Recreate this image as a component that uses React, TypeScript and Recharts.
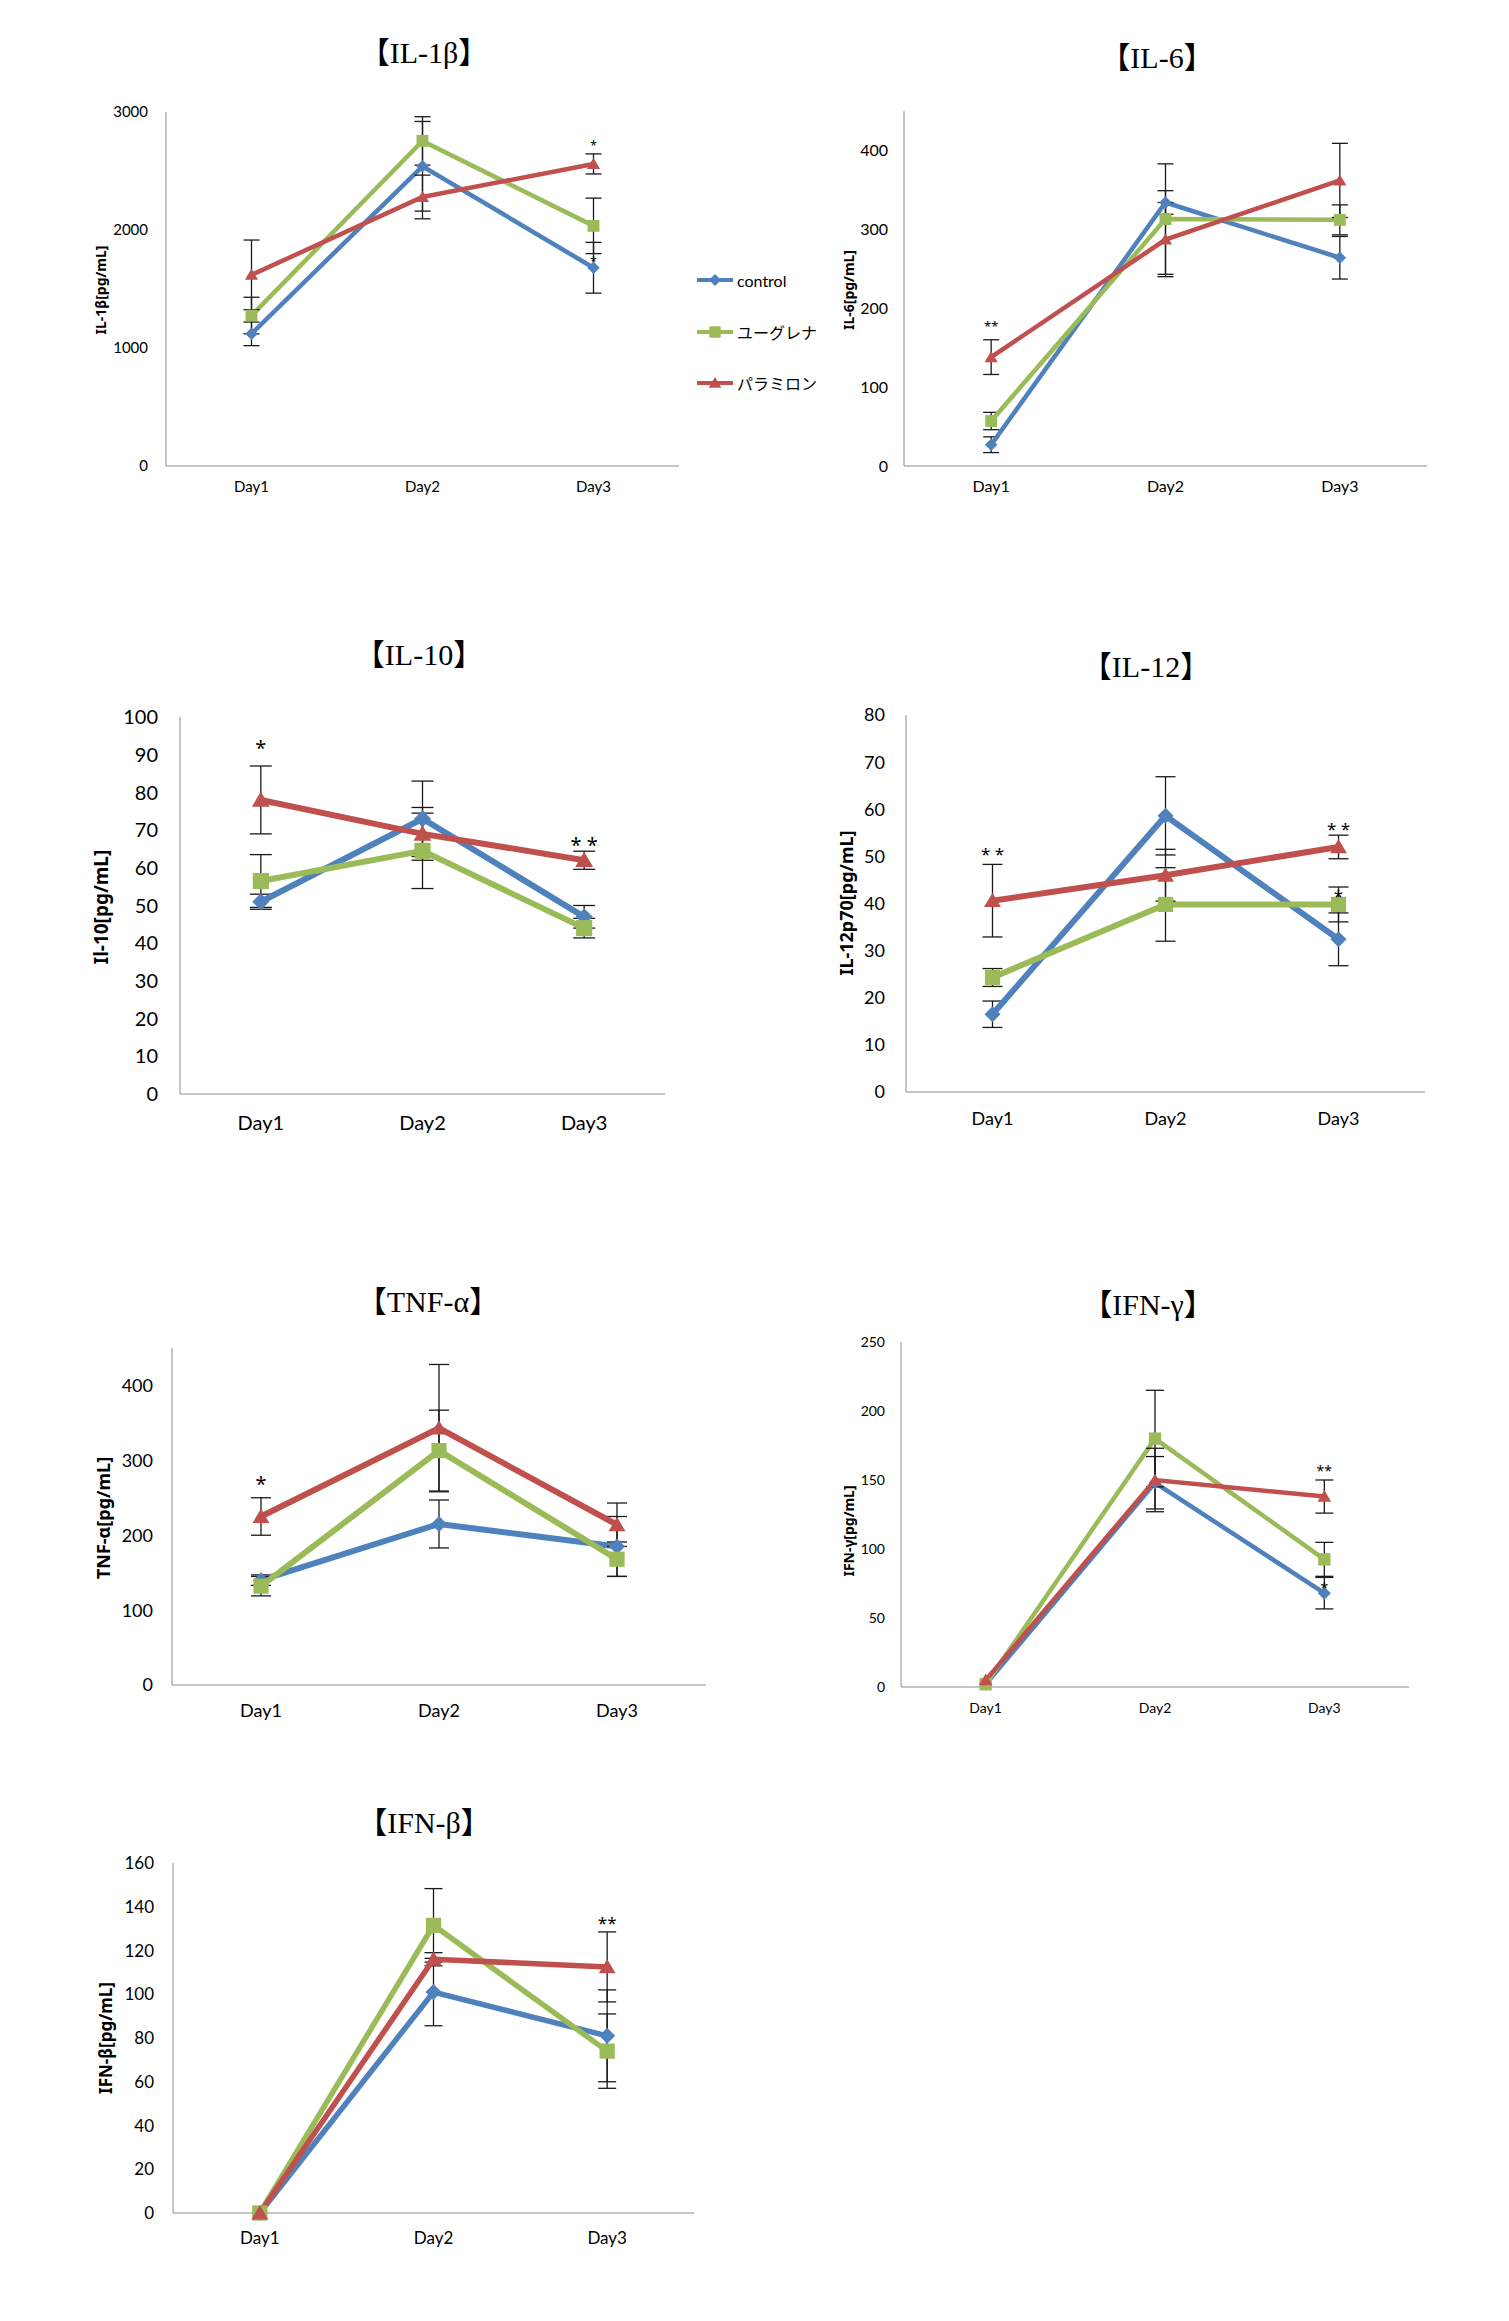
import { LineChart, Line, XAxis, YAxis, ErrorBar, ReferenceDot, Legend } from 'recharts';

// categories and series names
const days = ['Day1', 'Day2', 'Day3'];
const seriesNames = ['control', 'ユーグレナ', 'パラミロン'];

// IL-1β
const il1bControl = [1120, 2540, 1680];
const il1bEuglena = [1275, 2755, 2035];
const il1bParamylon = [1620, 2280, 2560];
const il1bControlErr = [100, 380, 215];
const il1bEuglenaErr = [155, 205, 235];
const il1bParamylonErr = [295, 185, 85];
const il1bTicks = [0, 1000, 2000, 3000];
const il1bStars = [
  { day: 'Day3', value: 2712, text: '*' },
  { day: 'Day3', value: 1729, text: '*' },
];

// IL-6
const il6Control = [27, 334, 264];
const il6Euglena = [57, 313, 312];
const il6Paramylon = [138, 287, 362];
const il6ControlErr = [10, 15, 27];
const il6EuglenaErr = [11, 70, 19];
const il6ParamylonErr = [22, 47, 47];
const il6Ticks = [0, 100, 200, 300, 400];
const il6Stars = [{ day: 'Day1', value: 177, text: '**' }];

// IL-10
const il10Control = [51, 73, 47];
const il10Euglena = [56.5, 64.5, 44];
const il10Paramylon = [78, 69, 62];
const il10ControlErr = [2, 10, 3];
const il10EuglenaErr = [7, 10, 2.6];
const il10ParamylonErr = [9, 7, 2.4];
const il10Ticks = [0, 10, 20, 30, 40, 50, 60, 70, 80, 90, 100];
const il10Stars = [
  { day: 'Day1', value: 91.8, text: '*' },
  { day: 'Day3', value: 66, text: '* *' },
];

// IL-12
const il12Control = [16.5, 58.6, 32.4];
const il12Euglena = [24.3, 39.8, 39.8];
const il12Paramylon = [40.6, 46, 52];
const il12ControlErr = [2.8, 8.3, 5.6];
const il12EuglenaErr = [1.9, 7.8, 3.7];
const il12ParamylonErr = [7.7, 5.5, 2.5];
const il12Ticks = [0, 10, 20, 30, 40, 50, 60, 70, 80];
const il12Stars = [
  { day: 'Day1', value: 50.5, text: '* *' },
  { day: 'Day3', value: 55.8, text: '* *' },
  { day: 'Day3', value: 41.6, text: '*' },
];

// TNF-α
const tnfControl = [140, 215, 185];
const tnfEuglena = [132, 313, 168];
const tnfParamylon = [225, 343, 214];
const tnfControlErr = [7, 32, 40];
const tnfEuglenaErr = [13, 54, 23];
const tnfParamylonErr = [25, 85, 29];
const tnfTicks = [0, 100, 200, 300, 400];
const tnfStars = [{ day: 'Day1', value: 269, text: '*' }];

// IFN-γ
const ifngControl = [2, 148, 68];
const ifngEuglena = [2, 180, 92.5];
const ifngParamylon = [5, 150, 138];
const ifngControlErr = [0, 19, 11.4];
const ifngEuglenaErr = [0, 35, 12.3];
const ifngParamylonErr = [0, 23, 12];
const ifngTicks = [0, 50, 100, 150, 200, 250];
const ifngStars = [
  { day: 'Day3', value: 156.5, text: '**' },
  { day: 'Day3', value: 71.4, text: '*' },
];

// IFN-β
const ifnbControl = [0, 101, 81];
const ifnbEuglena = [0, 131.5, 74];
const ifnbParamylon = [0, 116, 112.5];
const ifnbControlErr = [0, 15.4, 21];
const ifnbEuglenaErr = [0, 16.8, 17];
const ifnbParamylonErr = [0, 3, 16];
const ifnbTicks = [0, 20, 40, 60, 80, 100, 120, 140, 160];
const ifnbStars = [{ day: 'Day3', value: 132.8, text: '**' }];

const COLORS = ['#4F81BD', '#9BBB59', '#C0504D'];
const KINDS = ['diamond', 'square', 'triangle'];
const AXIS = '#8c8c8c';
const TICK_FONT = "Lato, 'Noto Sans CJK JP', sans-serif";

function makeRows(c: number[], e: number[], p: number[], ce: number[], ee: number[], pe: number[]) {
  return days.map((day, i) => ({
    day,
    control: c[i],
    euglena: e[i],
    paramylon: p[i],
    controlErr: ce[i],
    euglenaErr: ee[i],
    paramylonErr: pe[i],
  }));
}

function Marker({ kind, cx, cy, size, fill }: any) {
  const h = size / 2;
  if (kind === 'diamond') {
    return <path d={`M${cx},${cy - h}L${cx + h},${cy}L${cx},${cy + h}L${cx - h},${cy}Z`} fill={fill} />;
  }
  if (kind === 'square') {
    const s = size * 0.95;
    return <rect x={cx - s / 2} y={cy - s / 2} width={s} height={s} fill={fill} />;
  }
  return <path d={`M${cx},${cy - h}L${cx + h * 1.05},${cy + h * 0.8}L${cx - h * 1.05},${cy + h * 0.8}Z`} fill={fill} />;
}

const panels = [
  {
    title: '【IL-1β】', yLabel: 'IL-1β[pg/mL]', max: 3000, ticks: il1bTicks, stars: il1bStars,
    rows: makeRows(il1bControl, il1bEuglena, il1bParamylon, il1bControlErr, il1bEuglenaErr, il1bParamylonErr),
    plot: { L: 166, T: 112, R: 679, B: 466 }, titleX: 424, titleY: 53, labelX: 100, labelY: 290,
    tickFont: 15, tickGap: 18, xMargin: 15, lineW: 4.5, marker: 12.5, cap: 8, starSize: 12, labelSize: 14, legend: true,
  },
  {
    title: '【IL-6】', yLabel: 'IL-6[pg/mL]', max: 450, ticks: il6Ticks, stars: il6Stars,
    rows: makeRows(il6Control, il6Euglena, il6Paramylon, il6ControlErr, il6EuglenaErr, il6ParamylonErr),
    plot: { L: 904, T: 111, R: 1427, B: 466 }, titleX: 1157, titleY: 58, labelX: 848, labelY: 290,
    tickFont: 16, tickGap: 16, xMargin: 15, lineW: 4.5, marker: 12.5, cap: 8, starSize: 13, labelSize: 14,
  },
  {
    title: '【IL-10】', yLabel: 'Il-10[pg/mL]', max: 100, ticks: il10Ticks, stars: il10Stars,
    rows: makeRows(il10Control, il10Euglena, il10Paramylon, il10ControlErr, il10EuglenaErr, il10ParamylonErr),
    plot: { L: 180, T: 717, R: 665, B: 1094 }, titleX: 419, titleY: 655, labelX: 101, labelY: 907,
    tickFont: 20, tickGap: 22, xMargin: 22, lineW: 6, marker: 17, cap: 11, starSize: 20, labelSize: 19,
  },
  {
    title: '【IL-12】', yLabel: 'IL-12p70[pg/mL]', max: 80, ticks: il12Ticks, stars: il12Stars,
    rows: makeRows(il12Control, il12Euglena, il12Paramylon, il12ControlErr, il12EuglenaErr, il12ParamylonErr),
    plot: { L: 906, T: 715, R: 1425, B: 1092 }, titleX: 1146, titleY: 667, labelX: 846, labelY: 903,
    tickFont: 18, tickGap: 21, xMargin: 20, lineW: 6, marker: 16, cap: 10, starSize: 17, labelSize: 18,
  },
  {
    title: '【TNF-α】', yLabel: 'TNF-α[pg/mL]', max: 450, ticks: tnfTicks, stars: tnfStars,
    rows: makeRows(tnfControl, tnfEuglena, tnfParamylon, tnfControlErr, tnfEuglenaErr, tnfParamylonErr),
    plot: { L: 172, T: 1348, R: 706, B: 1685 }, titleX: 428, titleY: 1302, labelX: 103, labelY: 1518,
    tickFont: 18, tickGap: 19, xMargin: 19, lineW: 6, marker: 16, cap: 10, starSize: 20, labelSize: 18,
  },
  {
    title: '【IFN-γ】', yLabel: 'IFN-γ[pg/mL]', max: 250, ticks: ifngTicks, stars: ifngStars,
    rows: makeRows(ifngControl, ifngEuglena, ifngParamylon, ifngControlErr, ifngEuglenaErr, ifngParamylonErr),
    plot: { L: 901, T: 1342, R: 1409, B: 1687 }, titleX: 1148, titleY: 1305, labelX: 848, labelY: 1531,
    tickFont: 14, tickGap: 16, xMargin: 16, lineW: 4.5, marker: 13, cap: 9, starSize: 14, labelSize: 14,
  },
  {
    title: '【IFN-β】', yLabel: 'IFN-β[pg/mL]', max: 160, ticks: ifnbTicks, stars: ifnbStars,
    rows: makeRows(ifnbControl, ifnbEuglena, ifnbParamylon, ifnbControlErr, ifnbEuglenaErr, ifnbParamylonErr),
    plot: { L: 173, T: 1863, R: 694, B: 2213 }, titleX: 424, titleY: 1823, labelX: 105, labelY: 2038,
    tickFont: 17, tickGap: 19, xMargin: 19, lineW: 5.5, marker: 16, cap: 9, starSize: 17, labelSize: 17,
  },
];

const keys = ['control', 'euglena', 'paramylon'];

function Panel({ cfg }: any) {
  const { L, T, R, B } = cfg.plot;
  const axisW = 70;
  const padT = 30;
  const xAxisH = 60;
  const padR = cfg.legend ? 150 : 20;
  const width = axisW + (R - L) + padR;
  const height = padT + (B - T) + xAxisH;
  const left = L - axisW;
  const top = T - padT;
  const band = (R - L) / 6;

  // keep the legend in the series order, whatever order the payload arrives in
  const renderLegend = (props: any) => {
    const items = [...(props.payload || [])].sort(
      (a: any, b: any) => seriesNames.indexOf(a.value) - seriesNames.indexOf(b.value)
    );
    return (
      <div>
        {items.map((entry: any) => {
          const idx = seriesNames.indexOf(entry.value);
          return (
            <div key={entry.value} style={{ display: 'flex', alignItems: 'center', height: 51.5 }}>
              <svg width={38} height={16}>
                <line x1={0} y1={8} x2={36} y2={8} stroke={COLORS[idx]} strokeWidth={4} />
                <Marker kind={KINDS[idx]} cx={18} cy={8} size={12} fill={COLORS[idx]} />
              </svg>
              <span style={{ fontSize: 16, marginLeft: 2, fontFamily: TICK_FONT, color: '#000' }}>{entry.value}</span>
            </div>
          );
        })}
      </div>
    );
  };

  return (
    <>
      <div
        style={{
          position: 'absolute', left: cfg.titleX - 200, top: cfg.titleY - 20, width: 400, height: 40,
          lineHeight: '40px', textAlign: 'center', fontSize: 30, color: '#000',
          fontFamily: "'Liberation Serif', 'Noto Sans CJK JP', serif",
        }}
      >
        {cfg.title}
      </div>
      <div
        style={{
          position: 'absolute', left: cfg.labelX, top: cfg.labelY, transform: 'translate(-50%, -50%) rotate(-90deg)',
          whiteSpace: 'nowrap', fontWeight: 700, fontSize: cfg.labelSize, color: '#000',
          fontFamily: "'Noto Sans', sans-serif",
        }}
      >
        {cfg.yLabel}
      </div>
      <div style={{ position: 'absolute', left, top }}>
        <LineChart width={width} height={height} data={cfg.rows} margin={{ top: padT, right: padR, left: 0, bottom: 0 }}>
          <XAxis
            dataKey="day"
            padding={{ left: band, right: band }}
            height={xAxisH}
            tickLine={false}
            tickSize={0}
            tickMargin={cfg.xMargin}
            interval={0}
            axisLine={{ stroke: AXIS, strokeWidth: 1 }}
            tick={{ fontSize: cfg.tickFont, fill: '#000', fontFamily: TICK_FONT }}
          />
          <YAxis
            width={axisW}
            domain={[0, cfg.max]}
            ticks={cfg.ticks}
            interval={0}
            tickLine={false}
            tickSize={0}
            tickMargin={cfg.tickGap}
            axisLine={{ stroke: AXIS, strokeWidth: 1 }}
            tick={{ fontSize: cfg.tickFont, fill: '#000', fontFamily: TICK_FONT }}
          />
          {keys.map((k, i) => (
            <Line
              key={k}
              type="linear"
              dataKey={k}
              name={seriesNames[i]}
              stroke={COLORS[i]}
              strokeWidth={cfg.lineW}
              isAnimationActive={false}
              activeDot={false}
              dot={(p: any) => (
                <Marker key={`${k}-${p.index}`} kind={KINDS[i]} cx={p.cx} cy={p.cy} size={cfg.marker} fill={COLORS[i]} />
              )}
            >
              <ErrorBar dataKey={`${k}Err`} direction="y" width={cfg.cap} strokeWidth={1.3} stroke="#1a1a1a" />
            </Line>
          ))}
          {cfg.stars.map((s: any, i: number) => (
            <ReferenceDot
              key={`star-${i}`}
              x={s.day}
              y={s.value}
              r={0}
              fill="none"
              stroke="none"
              ifOverflow="visible"
              label={{ value: s.text, position: 'center', fontSize: cfg.starSize, fill: '#000', fontFamily: "'Noto Sans', sans-serif" }}
            />
          ))}
          {cfg.legend && (
            <Legend
              layout="vertical"
              align="center"
              verticalAlign="middle"
              content={renderLegend}
              wrapperStyle={{ left: 697 - left, top: 280 - 25.75 - top, width: 140 }}
            />
          )}
        </LineChart>
      </div>
    </>
  );
}

export default function App() {
  return (
    <div style={{ position: 'absolute', left: 0, top: 0, width: 1509, height: 2321, background: '#fff' }}>
      {panels.map((cfg, i) => (
        <Panel key={i} cfg={cfg} />
      ))}
    </div>
  );
}
